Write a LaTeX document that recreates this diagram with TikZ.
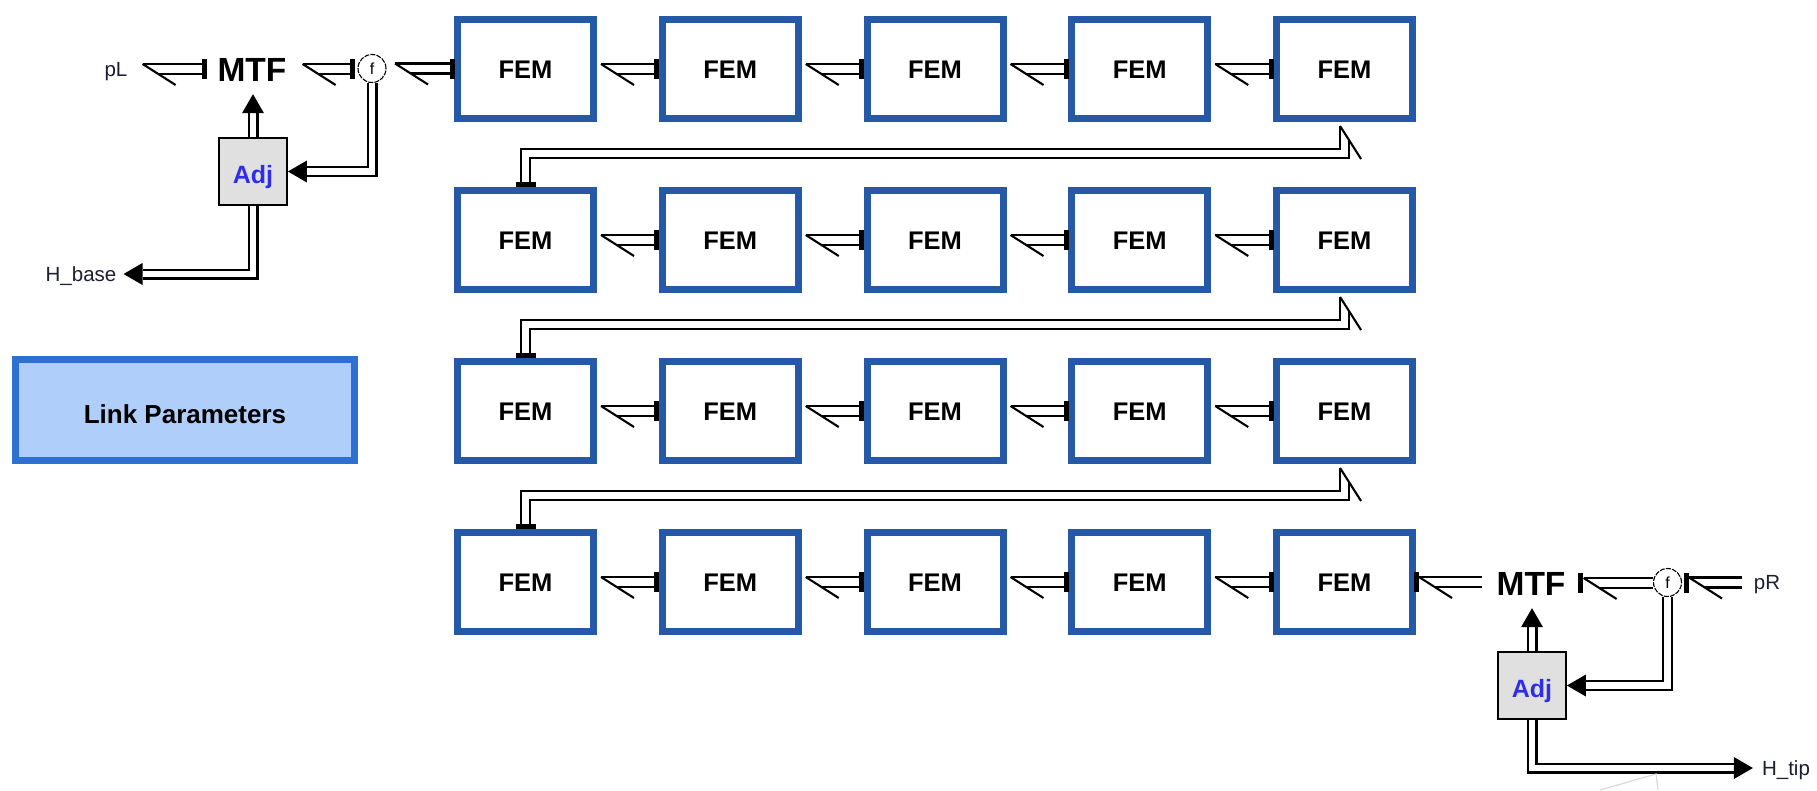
\documentclass[tikz,border=0pt]{standalone}
\usepackage{fontspec}
\setmainfont{Liberation Sans}
\usetikzlibrary{calc}
\definecolor{femblue}{RGB}{38,88,168}
\definecolor{lpborder}{RGB}{45,112,210}
\definecolor{lpfill}{RGB}{176,206,250}
\definecolor{adjfill}{RGB}{224,224,224}
\definecolor{adjtext}{RGB}{45,45,235}
\definecolor{labtext}{RGB}{30,30,50}

% horizontal bond: half-arrow tip at left point #1, lines run to #2
\newcommand{\hbond}[2]{%
  \coordinate (bA) at ($#1$);
  \coordinate (bB) at ($#2$);
  \draw[bline] ($(bA)+(0,-5)$) -- ($(bB |- bA)+(0,-5)$);
  \draw[bline] ($(bA)+(15.7,5)$) -- ($(bB |- bA)+(0,5)$);
  \draw[bline] ($(bA)+(0,-5)$) -- ++(33,21);
}
% vertical causal stroke centred on #1
\newcommand{\cstrokeV}[1]{\draw[cstroke] ($#1+(0,-10)$) -- ($#1+(0,10)$);}

\begin{document}
\begin{tikzpicture}[x=1pt,y=-1pt,
  fem/.style={draw=femblue, line width=7pt, fill=white, minimum width=136pt,
    minimum height=99pt, inner sep=0pt, text height=18.4pt, text depth=0pt,
    font=\fontsize{25.5}{30}\selectfont\bfseries},
  mtf/.style={inner sep=0pt, text height=24pt, text depth=0pt,
    font=\fontsize{33.5}{40}\selectfont\bfseries},
  adj/.style={draw=black, line width=1.8pt, fill=adjfill, minimum width=68pt,
    minimum height=67pt, inner sep=0pt, text height=23pt, text depth=0pt,
    text=adjtext, font=\fontsize{25}{30}\selectfont\bfseries},
  lp/.style={draw=lpborder, line width=7pt, fill=lpfill, minimum width=339pt,
    minimum height=101pt, inner sep=0pt, text height=26pt, text depth=0pt,
    font=\fontsize{26}{31}\selectfont\bfseries},
  lab/.style={inner sep=0pt, text height=14.7pt, text depth=0pt, text=labtext,
    font=\fontsize{20.5}{24}\selectfont},
  fj/.style={circle, draw=black, line width=1.1pt, dash pattern=on 5pt off 1.2pt,
    minimum size=28pt, inner sep=0pt, text height=11pt, text depth=0pt,
    font=\fontsize{16}{19}\selectfont},
  bline/.style={line width=2.1pt},
  dbl/.style={draw=black, line width=2.1pt, double=white, double distance=6.8pt},
  cstroke/.style={line width=5pt},
]
\fill[white] (0,0) rectangle (1817,790);
\useasboundingbox (0,0) rectangle (1817,790);

% FEM grid
\foreach \r in {1,...,4}
  \foreach \c in {1,...,5}
    \node[fem] (r\r c\c) at ({525.5+204.75*(\c-1)},{69+171*(\r-1)}) {FEM};

% left-top elements
\node[lab] (pL) at (116,69) {pL};
\node[mtf] (MTF1) at (252,69) {MTF};
\node[fj] (f1) at (372,68.5) {f};
\node[adj] (Adj1) at (253,171.5) {Adj};
\node[lab] (Hbase) at (81,274) {H\_base};
\node[lp] (LP) at (185,410) {Link Parameters};

% right-bottom elements
\node[mtf] (MTF2) at (1531,583) {MTF};
\node[fj] (f2) at (1667.5,582.5) {f};
\node[lab] (pR) at (1767,582) {pR};
\node[adj] (Adj2) at (1532,685.5) {Adj};
\node[lab] (Htip) at (1786,768) {H\_tip};

% top-left bonds
\hbond{(pL.east)+(15,0)}{(MTF1.west)+(-13,0)}
\cstrokeV{(MTF1.west)+(-13,0)}
\hbond{(MTF1.east)+(16,0)}{(f1.west)+(-5,0)}
\cstrokeV{(f1.west)+(-5,0)}
\hbond{(f1.east)+(8.5,0)}{(r1c1.west)+(-2,0)}
\cstrokeV{(r1c1.west)+(-2,0)}

% FEM to FEM bonds
\foreach \r in {1,...,4}
  \foreach \c in {1,...,4}{
    \pgfmathtruncatemacro{\n}{\c+1}
    \hbond{(r\r c\c.east)+(4,0)}{(r\r c\n.west)+(-2,0)}
    \cstrokeV{(r\r c\n.west)+(-2,0)}
  }

% wrap-around bonds
\foreach \r/\s in {1/2,2/3,3/4}{
  \coordinate (m) at ($(r\s c1.north)!0.5!(r\r c5.south)+(0,-1)$);
  \draw[dbl] ($(r\s c1.north)+(0,-5)$) -- (r\s c1.north |- m) -| ($(r\r c5.south)+(0,18)$);
  \draw[bline] ($(r\r c5.south)+(-4.45,18)$) -- ($(r\r c5.south)+(-4.45,4)$);
  \draw[bline] ($(r\r c5.south)+(-4.45,4)$) -- ++(21,33);
  \draw[cstroke] ($(r\s c1.north)+(-10,-2.5)$) -- ($(r\s c1.north)+(10,-2.5)$);
}

% bottom-right bonds
\cstrokeV{(r4c5.east)}
\hbond{(r4c5.east)+(3,0)}{(MTF2.west)+(-14,0)}
\cstrokeV{(MTF2.east)+(14.5,0)}
\hbond{(MTF2.east)+(18,0)}{(f2.west)}
\cstrokeV{(f2.east)+(4,0)}
\hbond{(f2.east)+(7,0)}{(pR.west)+(-12,0)}

% signals, top-left
\coordinate (t1) at ($(MTF1.south)+(0,13)$);
\draw[dbl] (Adj1.north) -- ($(Adj1.north |- t1)+(0,19)$);
\fill (Adj1.north |- t1) -- ++(-11,19) -- ++(22,0) -- cycle;
\draw[dbl] (f1.south) |- ($(Adj1.east)+(19,0)$);
\fill (Adj1.east) -- ++(19,-11) -- ++(0,22) -- cycle;
\draw[dbl] (Adj1.south) |- ($(Hbase.east)+(26,0)$);
\fill ($(Hbase.east)+(7,0)$) -- ++(19,-11) -- ++(0,22) -- cycle;

% signals, bottom-right
\coordinate (t2) at ($(MTF2.south)+(0,13)$);
\draw[dbl] (Adj2.north) -- ($(Adj2.north |- t2)+(0,19)$);
\fill (Adj2.north |- t2) -- ++(-11,19) -- ++(22,0) -- cycle;
\draw[dbl] (f2.south) |- ($(Adj2.east)+(19,0)$);
\fill (Adj2.east) -- ++(19,-11) -- ++(0,22) -- cycle;
\draw[dbl] (Adj2.south) |- ($(Htip.west)+(-28,0)$);
\fill ($(Htip.west)+(-9,0)$) -- ++(-19,-11) -- ++(0,22) -- cycle;

% faint artefact line at the bottom edge
\draw[gray!30, line width=1.2pt] (1600,790) -- (1656,774) -- (1658,790);
\end{tikzpicture}
\end{document}
